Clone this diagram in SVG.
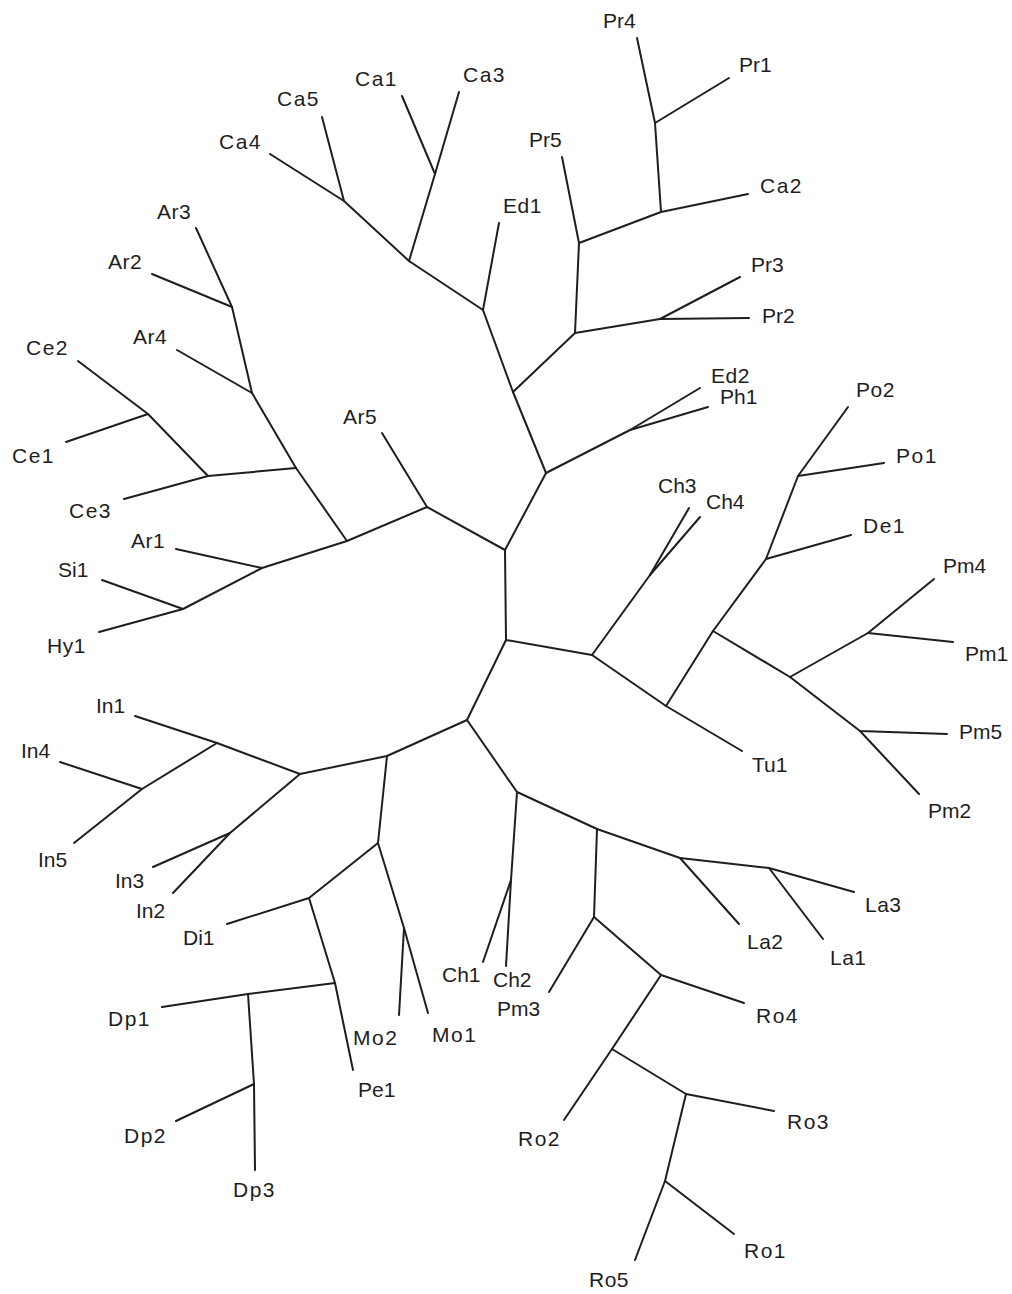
<svg xmlns="http://www.w3.org/2000/svg" width="1012" height="1294" viewBox="0 0 1012 1294">
<style>
.e{stroke:#1e1e1e;stroke-width:2;fill:none;stroke-linecap:round;stroke-linejoin:round}
text{font-family:"Liberation Sans",Arial,Helvetica,sans-serif;font-size:21px;fill:#1e1e1e}
.w{letter-spacing:1.5px}
.m{letter-spacing:0.5px}
</style>
<rect width="1012" height="1294" fill="#ffffff"/>
<g id="connectors" class="e">
<!-- center -->
<path d="M505,550 L506,640"/>
<path d="M505,550 L546,473"/>
<path d="M505,550 L427,507"/>
<path d="M506,640 L592,655"/>
<path d="M506,640 L467,720"/>
<!-- upper -->
<path d="M546,473 L513,392"/>
<path d="M546,473 L630,430 L700,388"/>
<path d="M630,430 L708,407"/>
<path d="M513,392 L483,310"/>
<path d="M513,392 L575,333"/>
<path d="M483,310 L499,223"/>
<path d="M483,310 L409,261"/>
<path d="M409,261 L344,201 L270,154"/>
<path d="M344,201 L322,117"/>
<path d="M409,261 L435,174 L402,96"/>
<path d="M435,174 L459,92"/>
<path d="M575,333 L579,243"/>
<path d="M575,333 L660,319 L740,277"/>
<path d="M660,319 L749,318"/>
<path d="M579,243 L562,157"/>
<path d="M579,243 L661,212 L748,194"/>
<path d="M661,212 L655,123 L637,38"/>
<path d="M655,123 L729,78"/>
<!-- left -->
<path d="M427,507 L382,433"/>
<path d="M427,507 L347,541"/>
<path d="M347,541 L296,468"/>
<path d="M296,468 L208,476 L124,499"/>
<path d="M208,476 L148,414 L78,361"/>
<path d="M148,414 L66,442"/>
<path d="M296,468 L252,393 L177,350"/>
<path d="M252,393 L232,307 L152,274"/>
<path d="M232,307 L196,228"/>
<path d="M347,541 L262,568 L176,549"/>
<path d="M262,568 L183,609 L102,580"/>
<path d="M183,609 L99,632"/>
<!-- lower left -->
<path d="M467,720 L387,756"/>
<path d="M387,756 L300,774"/>
<path d="M300,774 L217,743 L135,716"/>
<path d="M217,743 L142,789 L60,762"/>
<path d="M142,789 L74,843"/>
<path d="M300,774 L230,833 L153,867"/>
<path d="M230,833 L173,893"/>
<path d="M387,756 L378,843"/>
<path d="M378,843 L309,898 L227,924"/>
<path d="M309,898 L335,983 L353,1070"/>
<path d="M335,983 L248,994 L162,1007"/>
<path d="M248,994 L254,1084 L176,1121"/>
<path d="M254,1084 L255,1170"/>
<path d="M378,843 L404,928 L428,1013"/>
<path d="M404,928 L399,1015"/>
<!-- bottom -->
<path d="M467,720 L517,792"/>
<path d="M517,792 L511,880 L483,962"/>
<path d="M511,880 L506,966"/>
<path d="M517,792 L597,829"/>
<path d="M597,829 L594,917 L549,992"/>
<path d="M594,917 L661,975 L744,1003"/>
<path d="M661,975 L612,1049 L564,1120"/>
<path d="M612,1049 L686,1094 L774,1111"/>
<path d="M686,1094 L665,1181 L734,1234"/>
<path d="M665,1181 L635,1260"/>
<path d="M597,829 L680,858 L739,924"/>
<path d="M680,858 L769,868 L854,892"/>
<path d="M769,868 L823,939"/>
<!-- right -->
<path d="M592,655 L650,575 L689,508"/>
<path d="M650,575 L700,517"/>
<path d="M592,655 L666,706 L742,751"/>
<path d="M666,706 L713,631"/>
<path d="M713,631 L766,559 L851,535"/>
<path d="M766,559 L798,476 L884,463"/>
<path d="M798,476 L848,407"/>
<path d="M713,631 L790,677"/>
<path d="M790,677 L868,633 L934,579"/>
<path d="M868,633 L953,642"/>
<path d="M790,677 L860,731 L947,734"/>
<path d="M860,731 L919,794"/>
</g>
<g id="n-Pr4"><text x="603" y="28">Pr4</text></g>
<g id="n-Pr1"><text x="739" y="72">Pr1</text></g>
<g id="n-Ca3"><text class="w" x="463" y="82">Ca3</text></g>
<g id="n-Ca1"><text class="w" x="355" y="86">Ca1</text></g>
<g id="n-Ca5"><text class="w" x="277" y="106">Ca5</text></g>
<g id="n-Ca4"><text class="w" x="219" y="149">Ca4</text></g>
<g id="n-Pr5"><text x="529" y="147">Pr5</text></g>
<g id="n-Ca2"><text class="w" x="760" y="193">Ca2</text></g>
<g id="n-Ed1"><text class="m" x="503" y="213">Ed1</text></g>
<g id="n-Ar3"><text class="m" x="157" y="219">Ar3</text></g>
<g id="n-Ar2"><text class="m" x="108" y="269">Ar2</text></g>
<g id="n-Pr3"><text x="751" y="272">Pr3</text></g>
<g id="n-Pr2"><text x="762" y="323">Pr2</text></g>
<g id="n-Ar4"><text class="m" x="133" y="344">Ar4</text></g>
<g id="n-Ce2"><text class="w" x="26" y="355">Ce2</text></g>
<g id="n-Ed2"><text class="m" x="711" y="383">Ed2</text></g>
<g id="n-Po2"><text class="m" x="856" y="397">Po2</text></g>
<g id="n-Ph1"><text x="720" y="404">Ph1</text></g>
<g id="n-Ar5"><text class="m" x="343" y="424">Ar5</text></g>
<g id="n-Ce1"><text class="w" x="12" y="463">Ce1</text></g>
<g id="n-Po1"><text class="w" x="896" y="463">Po1</text></g>
<g id="n-Ch3"><text x="658" y="493">Ch3</text></g>
<g id="n-Ch4"><text x="706" y="509">Ch4</text></g>
<g id="n-Ce3"><text class="w" x="69" y="518">Ce3</text></g>
<g id="n-De1"><text class="w" x="863" y="533">De1</text></g>
<g id="n-Ar1"><text class="m" x="131" y="548">Ar1</text></g>
<g id="n-Pm4"><text x="943" y="573">Pm4</text></g>
<g id="n-Si1"><text x="58" y="577">Si1</text></g>
<g id="n-Hy1"><text class="m" x="47" y="653">Hy1</text></g>
<g id="n-Pm1"><text x="965" y="661">Pm1</text></g>
<g id="n-In1"><text x="96" y="713">In1</text></g>
<g id="n-Pm5"><text x="959" y="739">Pm5</text></g>
<g id="n-In4"><text x="21" y="758">In4</text></g>
<g id="n-Tu1"><text x="752" y="772">Tu1</text></g>
<g id="n-Pm2"><text x="928" y="818">Pm2</text></g>
<g id="n-In5"><text x="38" y="867">In5</text></g>
<g id="n-In3"><text x="115" y="888">In3</text></g>
<g id="n-La3"><text class="m" x="865" y="912">La3</text></g>
<g id="n-In2"><text x="136" y="918">In2</text></g>
<g id="n-Di1"><text x="183" y="945">Di1</text></g>
<g id="n-La2"><text class="m" x="747" y="949">La2</text></g>
<g id="n-La1"><text class="m" x="830" y="965">La1</text></g>
<g id="n-Ch1"><text x="442" y="982">Ch1</text></g>
<g id="n-Ch2"><text x="493" y="987">Ch2</text></g>
<g id="n-Pm3"><text x="497" y="1016">Pm3</text></g>
<g id="n-Ro4"><text class="w" x="756" y="1023">Ro4</text></g>
<g id="n-Dp1"><text class="w" x="108" y="1026">Dp1</text></g>
<g id="n-Mo1"><text class="w" x="432" y="1042">Mo1</text></g>
<g id="n-Mo2"><text class="w" x="353" y="1045">Mo2</text></g>
<g id="n-Pe1"><text x="358" y="1097">Pe1</text></g>
<g id="n-Ro3"><text class="w" x="787" y="1129">Ro3</text></g>
<g id="n-Dp2"><text class="w" x="124" y="1143">Dp2</text></g>
<g id="n-Ro2"><text class="w" x="518" y="1146">Ro2</text></g>
<g id="n-Dp3"><text class="w" x="233" y="1197">Dp3</text></g>
<g id="n-Ro1"><text class="w" x="744" y="1258">Ro1</text></g>
<g id="n-Ro5"><text class="m" x="589" y="1287">Ro5</text></g>
</svg>
